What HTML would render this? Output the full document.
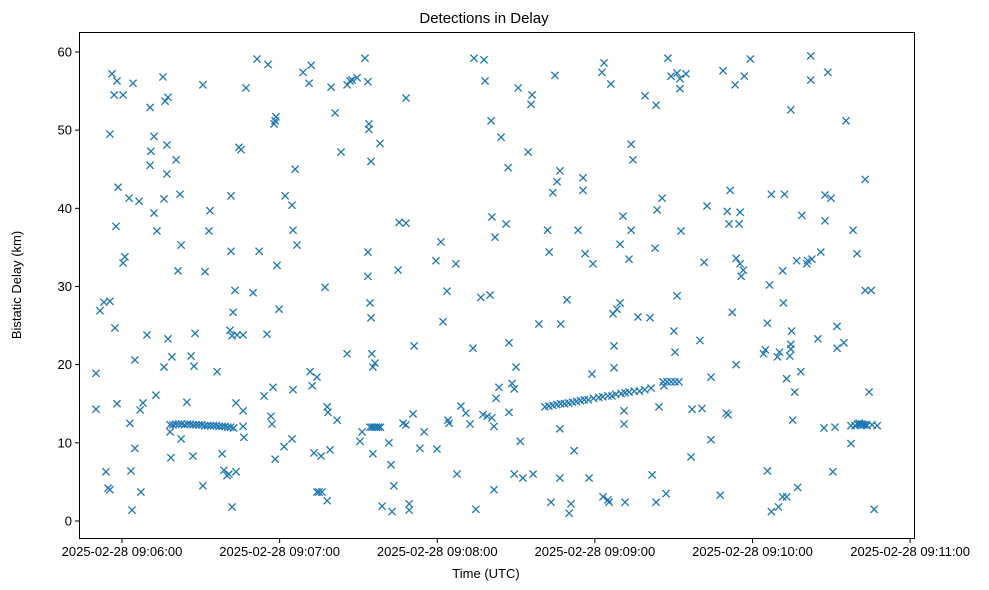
<!DOCTYPE html>
<html><head><meta charset="utf-8"><style>
body{margin:0;background:#fff;}
svg{display:block;font-family:"Liberation Sans","DejaVu Sans",sans-serif;}
</style></head><body>
<svg id="chart" width="989" height="590">
<rect x="0" y="0" width="989" height="590" fill="#fff"/>
<text x="484" y="23" font-size="15" text-anchor="middle">Detections in Delay</text>
<text x="486" y="578" font-size="13" text-anchor="middle">Time (UTC)</text>
<text transform="translate(21,285) rotate(-90)" font-size="13" text-anchor="middle">Bistatic Delay (km)</text>
<g id="marks"></g>
<rect x="79.5" y="32.5" width="835" height="506" fill="none" stroke="#000" stroke-width="1"/>
<g id="axes"></g>
</svg>
<script>
// seconds after 2025-02-28 09:06:00
const times = [-9.9,-9.9,-8.4,-6.9,-6.1,-5.3,-4.6,-4.6,-4.6,-3.8,-3.0,-2.7,-2.3,-1.9,-1.9,-1.5,0.4,0.4,1.1,2.7,3.0,3.4,3.8,4.2,4.9,4.9,6.5,6.9,7.2,8.0,9.5,10.7,10.7,11.0,12.2,12.2,12.9,13.3,15.6,16.0,16.0,16.4,17.5,17.1,17.1,17.5,18.3,18.6,19.0,20.6,21.3,22.1,22.5,22.5,24.7,26.3,27.4,27.0,27.8,30.8,30.8,31.6,33.1,33.5,36.2,38.1,38.8,40.0,40.7,41.5,41.5,41.9,41.1,41.9,42.3,43.0,43.4,43.4,43.8,44.5,45.3,46.1,46.1,46.1,46.4,47.2,49.9,51.4,52.2,54.1,55.2,55.6,56.7,57.1,57.5,57.9,58.3,58.6,58.3,59.0,59.8,61.7,62.1,64.7,64.7,65.1,65.1,65.9,66.6,68.9,71.2,71.6,72.0,72.4,73.1,74.2,74.2,75.0,75.8,76.1,77.3,78.1,78.4,78.1,79.2,79.6,81.1,81.9,83.4,85.7,85.7,86.8,87.6,89.5,90.6,91.4,92.5,93.6,93.6,93.6,94.0,94.4,94.0,94.8,94.8,95.1,95.5,95.5,96.3,98.2,99.0,101.6,102.4,102.8,103.5,105.1,105.5,107.0,108.1,108.1,108.1,109.3,109.3,110.8,111.2,113.4,115.0,119.5,119.9,121.4,122.2,123.7,124.1,124.5,127.1,127.5,129.0,130.9,132.5,133.6,134.0,134.7,136.6,137.4,137.8,138.2,139.0,140.1,140.5,140.8,140.8,141.6,142.0,141.6,142.4,143.5,144.3,146.2,147.0,147.3,147.3,148.5,149.3,149.3,150.0,151.6,150.8,152.6,154.6,155.7,156.1,156.5,158.7,
162,162.6,163.3,164,164.8,165.6,166.7,166.7,167,166.7,169.4,170.2,170.9,172.1,173.6,175.5,175.5,176.3,177.8,178.9,179.3,182.7,183.5,183.1,185,185.4,186.1,186.9,187.3,187.3,188.4,189.6,189.6,190.7,191.1,191.1,191.5,193,193.8,193.8,194.5,196.4,199.1,201,201.4,201.8,202.9,203.3,203.3,203.7,204.4,205.6,206.3,207.1,207.8,209,210.1,210.5,211.3,211.3,212.4,212.4,212.8,214.7,216.6,217,220,220.8,221.6,222.7,224.2,224.2,227.7,228.8,230,230.4,230.7,231.1,231.5,232.3,233.4,233.8,233.8,235.3,234.9,235.3,235.7,236.5,236.9,239.2,244.2,244.9,245.7,245.7,246.5,247.2,247.2,249.5,249.9,250.3,251.5,251.5,251.8,252.2,253,253,254.2,254.6,254.6,254.6,254.9,255.3,256.1,256.8,257.2,258.4,258.8,260.7,261,262.2,262.2,262.6,264.9,266,267.2,267.6,267.6,268.7,269.9,270.6,271.4,272.2,272.2,274.8,275.6,277.5,278.3,277.5,279,279.8,280.6,281.3,282.1,282.9,282.9,283.6,284.4,285.2,285.5,286.3,287.5,
18.3,19.4,20.5,21.6,22.7,23.8,24.9,26.0,27.1,28.2,29.3,30.4,31.5,32.6,33.7,34.8,35.9,37.0,38.1,39.2,40.3,41.4,42.5,
94.4,95.2,96.0,96.8,97.6,98.4,
161,162.5,164,165.5,167,168.5,170,171.5,173,174.5,176,177.5,179.5,181.5,183,185,186.5,188,190,191.5,193,195,197,199,206,207.5,209,210.5,212,
280.0,280.8,281.6,282.4,283.2];
const delays = [18.9,14.3,26.9,28.0,6.3,4.2,28.1,4.0,49.5,57.2,54.5,24.7,37.7,56.3,15.0,42.7,54.5,33.0,33.8,41.3,12.5,6.4,1.4,56.0,20.6,9.3,40.9,14.2,3.7,15.1,23.8,45.5,52.9,47.3,49.2,39.4,16.1,37.1,56.8,41.2,19.7,53.7,54.2,48.1,44.4,23.3,11.4,8.1,21.0,46.2,32.0,41.8,35.3,10.5,15.2,21.1,19.8,8.3,24.0,4.5,55.8,31.9,37.1,39.7,19.1,8.6,6.5,5.8,6.0,41.6,34.5,1.8,24.4,23.7,26.7,29.5,6.3,15.1,23.8,47.8,47.5,23.8,14.1,12.1,10.7,55.4,29.2,59.1,34.5,16.0,23.9,58.4,13.4,12.4,17.1,50.8,51.2,51.7,7.9,32.7,27.1,9.5,41.6,40.4,10.5,37.2,16.8,45.0,35.3,57.4,56.0,19.1,58.3,17.3,8.7,3.7,18.4,3.7,8.3,3.7,29.9,14.6,13.9,2.6,9.1,55.5,52.2,12.9,47.2,21.4,55.8,56.3,56.4,56.7,10.2,11.4,59.2,56.2,31.3,34.4,50.8,27.9,50.1,46.0,26.0,21.4,19.7,8.6,20.2,48.3,1.9,10.0,7.2,1.2,4.5,32.1,38.2,12.5,54.1,38.1,12.3,2.2,1.4,13.7,22.4,9.3,11.4,33.3,9.2,35.7,25.5,29.4,12.9,12.5,32.9,6.0,14.7,13.8,12.4,22.1,59.2,1.5,28.6,13.6,59.0,56.3,13.4,28.9,51.2,13.2,38.9,12.1,36.3,4.0,15.7,17.1,49.1,38.0,45.2,22.8,13.9,17.6,16.9,6.0,19.7,10.2,55.4,5.5,47.2,53.3,54.5,6.0,25.2,
37.2,34.4,2.4,42.0,57.0,43.4,44.8,11.8,25.2,5.5,28.3,1.0,2.2,9.0,37.2,43.9,42.3,34.2,5.5,18.8,32.9,57.4,58.6,3.1,2.7,2.4,55.9,26.5,19.6,22.4,27.1,27.9,35.4,39.0,14.1,12.4,2.4,33.5,37.2,48.2,46.2,26.1,54.4,26.0,17.0,5.9,34.9,53.2,2.4,39.8,14.6,41.3,17.3,3.5,59.2,56.9,24.3,21.6,28.8,57.3,55.3,56.6,37.1,57.2,8.2,14.3,23.1,14.4,33.1,40.3,10.4,18.4,3.3,57.6,13.8,39.6,13.6,38.0,42.3,26.7,55.8,33.6,20.0,39.5,38.0,32.9,31.3,32.1,56.9,59.1,21.4,21.9,25.3,6.4,30.2,41.8,1.2,21.0,1.8,21.6,32.0,3.1,27.9,41.8,18.2,3.1,21.1,52.6,22.6,22.0,24.3,12.9,16.5,33.3,4.3,19.1,39.1,32.9,33.3,59.5,56.4,33.5,23.3,34.4,11.9,41.7,38.4,57.4,41.3,6.3,12.0,24.9,22.1,22.8,51.2,9.9,37.2,12.2,12.2,34.2,12.5,12.3,12.3,43.7,29.5,12.2,16.5,29.5,12.3,1.5,12.2,
12.3,12.3,12.4,12.4,12.4,12.3,12.4,12.4,12.3,12.3,12.3,12.3,12.2,12.2,12.2,12.2,12.2,12.1,12.1,12.1,12.0,12.0,11.9,
12.0,12.0,12.0,12.0,12.0,12.0,
14.6,14.7,14.8,14.9,15.0,15.0,15.1,15.2,15.3,15.4,15.5,15.5,15.7,15.8,15.9,16.0,16.0,16.2,16.3,16.4,16.5,16.6,16.6,16.8,17.8,17.8,17.8,17.8,17.8,
12.4,12.4,12.4,12.3,12.3];
const yTicks = [0,10,20,30,40,50,60];
const xTicks = [0,60,120,180,240,300];
const xTickLabels = ["2025-02-28 09:06:00","2025-02-28 09:07:00","2025-02-28 09:08:00","2025-02-28 09:09:00","2025-02-28 09:10:00","2025-02-28 09:11:00"];

const NS = "http://www.w3.org/2000/svg";
function xScale(t){ return 122 + t * 2.627; }
function yScale(v){ return 521 - v * 7.817; }

const marks = document.getElementById('marks');
const n = Math.min(times.length, delays.length);
for (let i = 0; i < n; i++) {
  const cx = xScale(times[i]), cy = yScale(delays[i]);
  const p = document.createElementNS(NS, 'path');
  p.setAttribute('d', `M${cx-3.6},${cy-3.6}L${cx+3.6},${cy+3.6}M${cx-3.6},${cy+3.6}L${cx+3.6},${cy-3.6}`);
  p.setAttribute('stroke', '#1f77b4');
  p.setAttribute('stroke-width', '1.3');
  p.setAttribute('fill', 'none');
  
  
  marks.appendChild(p);
}
const axes = document.getElementById('axes');
yTicks.forEach(v => {
  const y = yScale(v);
  const l = document.createElementNS(NS, 'line');
  l.setAttribute('x1', 75); l.setAttribute('x2', 79.5);
  l.setAttribute('y1', y); l.setAttribute('y2', y);
  l.setAttribute('stroke', '#000');
  
  
  axes.appendChild(l);
  const t = document.createElementNS(NS, 'text');
  t.setAttribute('x', 72); t.setAttribute('y', y + 4.5);
  t.setAttribute('font-size', '13'); t.setAttribute('text-anchor', 'end');
  t.textContent = v;
  
  
  axes.appendChild(t);
});
xTicks.forEach((s, i) => {
  const x = xScale(s);
  const l = document.createElementNS(NS, 'line');
  l.setAttribute('x1', x); l.setAttribute('x2', x);
  l.setAttribute('y1', 538.5); l.setAttribute('y2', 543);
  l.setAttribute('stroke', '#000');
  
  
  axes.appendChild(l);
  const t = document.createElementNS(NS, 'text');
  t.setAttribute('x', x); t.setAttribute('y', 556);
  t.setAttribute('font-size', '13'); t.setAttribute('text-anchor', 'middle');
  t.textContent = xTickLabels[i];
  
  
  axes.appendChild(t);
});
</script>
</body></html>
